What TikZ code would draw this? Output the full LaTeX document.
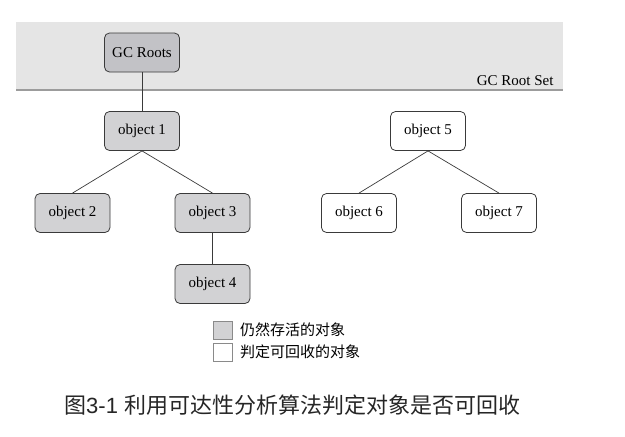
\documentclass[tikz,border=0pt]{standalone}
\usepackage{fontspec}
\setmainfont{Liberation Serif}
\newfontfamily\cjk{Noto Sans CJK SC}
\newfontfamily\capsans{Liberation Sans}
\definecolor{bandgray}{HTML}{E5E5E5}
\definecolor{bandline}{HTML}{9C9C9C}
\definecolor{rootfill}{HTML}{C2C2C6}
\definecolor{livefill}{HTML}{D2D2D4}
\definecolor{boxline}{HTML}{3A3A3A}
\definecolor{legline}{HTML}{8A8A8A}
\begin{document}
\begin{tikzpicture}[x=1pt,y=-1pt,
  obj/.style={draw=boxline,line width=0.8pt,rounded corners=5pt,minimum width=75pt,minimum height=39pt,inner sep=0pt,font=\fontsize{15}{15}\selectfont},
  live/.style={obj,fill=livefill},
  dead/.style={obj,fill=white},
  link/.style={draw=boxline,line width=0.7pt},
  legbox/.style={draw=legline,line width=0.7pt,minimum width=19pt,minimum height=18pt,inner sep=0pt}]
\useasboundingbox (0,0) rectangle (625,437);
% root set band
\fill[bandgray] (16,22) rectangle (563,90);
\draw[bandline,line width=2pt] (16,90) -- (563,90);
\node[anchor=base east,font=\fontsize{15}{15}\selectfont] (rootset) at (557,85) {GC Root Set};
% nodes
\node[obj,fill=rootfill] (roots) at (142,52.5) {GC Roots};
\node[live] (o1) at (142,131) {object 1};
\node[live] (o2) at (72.5,213) {object 2};
\node[live] (o3) at (212.5,213) {object 3};
\node[live] (o4) at (212.5,284) {object 4};
\node[dead] (o5) at (428,131) {object 5};
\node[dead] (o6) at (359,213) {object 6};
\node[dead] (o7) at (499,213) {object 7};
% links
\draw[link] (roots.south) -- (o1.north);
\draw[link] (o1.south) -- (o2.north);
\draw[link] (o1.south) -- (o3.north);
\draw[link] (o3.south) -- (o4.north);
\draw[link] (o5.south) -- (o6.north);
\draw[link] (o5.south) -- (o7.north);
% legend
\node[legbox,fill=livefill] (lg1) at (222.5,330) {};
\node[legbox,fill=white] (lg2) at (222.5,352) {};
\node[anchor=west,font=\cjk\fontsize{15}{15}\selectfont,inner sep=0pt] (lt1) at (240,330) {仍然存活的对象};
\node[anchor=west,font=\cjk\fontsize{15}{15}\selectfont,inner sep=0pt] (lt2) at (240,352) {判定可回收的对象};
% caption
\node[anchor=west,font=\cjk\fontsize{22}{22}\selectfont,inner sep=0pt,text=black!85] (cap) at (64,405) {图{\capsans 3-1 }利用可达性分析算法判定对象是否可回收};
\end{tikzpicture}
\end{document}
